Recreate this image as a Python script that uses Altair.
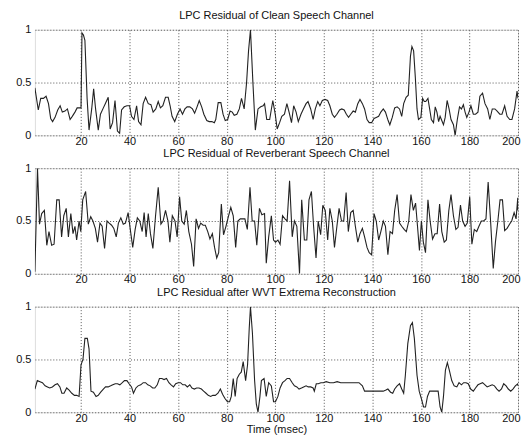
import altair as alt
import pandas as pd

# ---- Panel 1: LPC Residual of Clean Speech Channel ----
t1 = [1, 2.4, 3.4, 4.5, 5.6, 6.6, 7.5, 8.3, 9.3, 10.4, 11.4, 12.3, 13.4, 14.4, 15.5, 16.4, 17.5, 18.4, 19.3, 20,
      20.4, 21, 21.6, 22.5, 23.3, 24.4, 25.2, 26, 27.1, 28, 29.2, 30, 31.2, 32, 33, 34, 35, 35.9, 36.7, 37.8,
      38.9, 40, 40.8, 41.8, 42.9, 43.7, 44.7, 45.6, 46.6, 47.7, 48.8, 49.7, 50.8, 51.8, 52.7, 53.7, 54.8, 55.9,
      56.7, 57.5, 58.6, 59.7, 60.8, 61.8, 62.8, 63.7, 64.8, 65.9, 66.8, 67.8, 68.7, 69.7, 70.6, 71.8, 72.8, 73.9,
      74.9, 75.5, 76.5, 77.6, 78.5, 79.4, 80.4, 81.4, 82.3, 83.1, 84.2, 85.2, 86.1, 87.2, 88.2, 89, 89.8, 90.8,
      91.8, 92.9, 94, 95, 95.6, 96.5, 97.7, 99, 100, 100.8, 101.8, 102.7, 103.8, 104.8, 105.7, 106.7, 107.6,
      108.6, 109.5, 110.6, 111.6, 112.7, 113.5, 114.6, 115.6, 116.5, 117.5, 118.4, 119.4, 120.5, 121.6, 122.5,
      123.5, 124.4, 125.4, 126.5, 127.4, 128.4, 129.3, 130.2, 131.1, 132.1, 133, 134, 134.9, 135.9, 136.8,
      137.8, 138.7, 139.7, 140.7, 141.6, 142.6, 143.5, 144.5, 145.4, 146.5, 147.2, 148.2, 149.2, 150.2, 151.2,
      152.1, 152.9, 153.9, 154.8, 155.7, 156.3, 157, 157.7, 158.4, 159, 160, 160.7, 161.4, 162, 162.9, 163.6,
      164.3, 165.2, 165.9, 166.6, 167.3, 167.9, 168.6, 169.3, 170, 170.8, 171.6, 172.4, 173.4, 174.1, 175,
      175.9, 176.7, 177.5, 178.2, 178.9, 179.8, 180.6, 181.6, 182.5, 183.5, 184.3, 185.4, 186.4, 187.5, 188.4,
      189.4, 190.5, 191.4, 192.5, 193.4, 194.5, 195.5, 196.6, 197.5, 198.6, 199.6, 200]
v1 = [0.45, 0.24, 0.35, 0.35, 0.37, 0.30, 0.16, 0.13, 0.17, 0.24, 0.28, 0.22, 0.23, 0.25, 0.15, 0.18, 0.22, 0.26, 0.26, 0.26,
      0.97, 0.95, 0.90, 0.35, 0.05, 0.25, 0.44, 0.25, 0.05, 0.20, 0.26, 0.30, 0.36, 0.06, 0.12, 0.33, 0.04, 0.02, 0.24, 0.27,
      0.28, 0.28, 0.18, 0.15, 0.28, 0.13, 0.10, 0.30, 0.36, 0.30, 0.29, 0.22, 0.25, 0.32, 0.26, 0.28, 0.36, 0.36,
      0.28, 0.18, 0.13, 0.20, 0.25, 0.20, 0.25, 0.27, 0.27, 0.25, 0.21, 0.27, 0.33, 0.27, 0.20, 0.14, 0.13, 0.13,
      0.12, 0.15, 0.31, 0.31, 0.20, 0.14, 0.15, 0.23, 0.22, 0.19, 0.20, 0.25, 0.35, 0.25, 0.50, 0.80, 1.00, 0.50,
      0.05, 0.25, 0.27, 0.28, 0.30, 0.15, 0.15, 0.33, 0.20, 0.06, 0.12, 0.18, 0.20, 0.30, 0.22, 0.12, 0.28,
      0.22, 0.13, 0.20, 0.25, 0.30, 0.32, 0.25, 0.15, 0.25, 0.32, 0.28, 0.33, 0.34, 0.33, 0.28,
      0.20, 0.17, 0.20, 0.24, 0.25, 0.24, 0.20, 0.17, 0.20, 0.23, 0.22, 0.30, 0.34, 0.30, 0.25,
      0.15, 0.12, 0.12, 0.16, 0.17, 0.18, 0.22, 0.25, 0.22, 0.14, 0.10, 0.17, 0.26, 0.27, 0.25,
      0.18, 0.30, 0.36, 0.38, 0.75, 0.84, 0.80, 0.55, 0.25, 0.15, 0.17, 0.35, 0.32, 0.32, 0.35, 0.25,
      0.15, 0.12, 0.27, 0.22, 0.13, 0.18, 0.14, 0.10, 0.17, 0.33, 0.25, 0.15, 0.10, 0.00, 0.15,
      0.27, 0.25, 0.29, 0.22, 0.17, 0.22, 0.28, 0.20, 0.20, 0.22, 0.37, 0.40, 0.30, 0.25, 0.15,
      0.25, 0.25, 0.23, 0.20, 0.20, 0.28, 0.18, 0.15, 0.15, 0.25, 0.42, 0.35]

# ---- Panel 2: LPC Residual of Reverberant Speech Channel ----
t2 = [1, 2.07, 2.9, 3.8, 4.9, 5.9, 6.8, 7.9, 8.9, 10, 11, 12, 12.9, 13.9, 14.8, 15.8, 16.7, 17.5, 18.2, 19.2,
      19.9, 20.7, 21.9, 23, 24, 24.9, 25.9, 26.8, 27.8, 28.7, 29.7, 30.7, 31.6, 32.6, 33.5, 34.5, 35.4, 36.4,
      37.4, 38.3, 39.4, 40.3, 41.3, 42.3, 43.2, 44.2, 45.2, 46, 46.8, 47.7, 48.6, 49.6, 50.7, 51.8, 52.9, 53.8,
      54.8, 55.8, 56.6, 57.6, 58.7, 59.6, 60.6, 61.5, 62.5, 63.4, 64.4, 65.5, 66.4, 67.4, 68.4, 69.3, 70.3,
      71.2, 72.2, 73.1, 74.1, 75, 75.9, 76.7, 77.8, 78.7, 79.7, 80.8, 81.7, 82.7, 83.7, 84.6, 85.6, 86.6, 87.5,
      88.5, 89.6, 90.5, 91.5, 92.4, 93.5, 94.5, 95.6, 96.3, 97.3, 98.4, 99.3, 100.1, 101.1, 102, 103, 104,
      104.9, 105.9, 107, 107.9, 108.9, 110, 110.9, 112, 113, 113.9, 114.9, 115.8, 116.8, 117.7, 118.7, 119.6,
      120.6, 121.6, 122.5, 123.5, 124.4, 125.4, 126.3, 127.3, 128.2, 129.2, 130.1, 131.1, 132.1, 133, 134,
      134.9, 135.9, 136.8, 137.8, 138.7, 139.7, 140.7, 141.6, 142.6, 143.5, 144.5, 145.4, 146.4, 147.3, 148.3,
      149.2, 150.2, 151.2, 152.1, 153.1, 154, 155, 155.9, 156.9, 157.8, 158.6, 159.4, 160.2, 161, 161.9,
      162.9, 163.8, 164.8, 165.8, 166.7, 167.7, 168.6, 169.6, 170.5, 171.5, 172.4, 173.4, 174.4, 175.3, 176.3,
      177.2, 178.2, 179.1, 180.1, 181, 182, 183, 183.9, 184.9, 185.8, 186.8, 187.7, 188.7, 189.8, 190.7,
      191.7, 192.6, 193.6, 194.5, 195.5, 196.5, 197.4, 198.4, 199.2, 199.9, 200]
v2 = [0.02, 1.00, 0.47, 0.57, 0.60, 0.27, 0.40, 0.27, 0.28, 0.70, 0.70, 0.35, 0.55, 0.62, 0.35, 0.57, 0.38, 0.45, 0.32, 0.50,
      0.40, 0.70, 0.78, 0.47, 0.54, 0.50, 0.43, 0.30, 0.48, 0.45, 0.24, 0.50, 0.48, 0.46, 0.43, 0.35, 0.48, 0.53,
      0.47, 0.48, 0.58, 0.42, 0.25, 0.42, 0.53, 0.50, 0.40, 0.58, 0.35, 0.57, 0.38, 0.24, 0.55, 0.82, 0.47, 0.50,
      0.60, 0.50, 0.30, 0.55, 0.50, 0.35, 0.73, 0.50, 0.47, 0.60, 0.40, 0.28, 0.07, 0.52, 0.43, 0.48, 0.46,
      0.46, 0.40, 0.33, 0.38, 0.25, 0.15, 0.20, 0.66, 0.37, 0.45, 0.55, 0.63, 0.55, 0.25, 0.50, 0.52, 0.52, 0.52,
      0.42, 0.82, 0.50, 0.50, 0.27, 0.62, 0.56, 0.57, 0.10, 0.35, 0.55, 0.32, 0.30, 0.32, 0.28, 0.55, 0.52,
      0.50, 0.88, 0.35, 0.50, 0.45, 0.00, 0.70, 0.32, 0.32, 0.70, 0.78, 0.45, 0.15, 0.50, 0.37, 0.65,
      0.60, 0.32, 0.62, 0.50, 0.25, 0.45, 0.62, 0.50, 0.50, 0.77, 0.40, 0.58, 0.60, 0.45, 0.30,
      0.38, 0.43, 0.35, 0.25, 0.20, 0.18, 0.57, 0.50, 0.32, 0.40, 0.50, 0.45, 0.18, 0.40, 0.38,
      0.60, 0.75, 0.48, 0.45, 0.42, 0.40, 0.50, 0.75, 0.60, 0.67, 0.45, 0.22, 0.50, 0.30, 0.20,
      0.70, 0.50, 0.33, 0.38, 0.38, 0.66, 0.40, 0.30, 0.32, 0.60, 0.75, 0.55, 0.42, 0.44, 0.65,
      0.50, 0.45, 0.48, 0.73, 0.28, 0.42, 0.40, 0.45, 0.50, 0.50, 0.52, 0.87, 0.50, 0.05, 0.30,
      0.50, 0.70, 0.70, 0.41, 0.43, 0.47, 0.50, 0.58, 0.52, 0.72, 0.60]

# ---- Panel 3: LPC Residual after WVT Extrema Reconstruction ----
t3 = [1, 2, 3.1, 4.1, 5.2, 6.2, 7.1, 8.2, 9.3, 10.3, 11.3, 12.1, 13, 14.1, 15.1, 16.2, 17.3, 18.2, 19.2, 20,
      20.8, 21.6, 22.6, 23.3, 24.1, 25.1, 26.2, 27.1, 28.1, 29.2, 30.1, 31.2, 32.2, 33.1, 34.1, 35, 36, 37,
      37.9, 38.9, 39.8, 40.8, 41.6, 42.6, 43.5, 44.6, 45.6, 46.6, 47.5, 48.5, 49.5, 50.4, 51.4, 52.3, 53.3,
      54.2, 55.2, 56.2, 57.1, 58.1, 59, 60, 61, 61.9, 62.9, 63.8, 64.8, 65.7, 66.7, 67.6, 68.6, 69.6, 70.5,
      71.5, 72.4, 73.4, 74.3, 75.3, 76.4, 77.4, 78.3, 79.3, 80.3, 81.2, 81.9, 82.7, 83.5, 84.3, 85.2, 86, 86.8,
      87.8, 88.6, 89.3, 89.8, 90.6, 91.5, 92.2, 92.9, 93.7, 94.3, 95.4, 96.3, 97.3, 98.4, 99.3, 100.1, 101.1,
      102, 103, 104, 104.9, 105.9, 107, 107.9, 108.9, 109.8, 110.8, 111.7, 112.7, 113.6, 114.6, 115.6, 116.1,
      116.9, 117.7, 118.8, 119.8, 121, 122.5, 124, 125.5, 127, 128.5, 130, 131.5, 133, 134.5, 135.9, 136.8,
      138.5, 140.5, 142.5, 144.5, 145.6, 146.4, 147.5, 148.4, 149.2, 150.2, 151.2, 152.1, 152.9, 153.6, 154.6,
      155.7, 156.5, 157.3, 158.4, 159.3, 160.3, 161.1, 161.9, 162.7, 163.6, 164.5, 165.5, 166.3, 167.1,
      167.9, 168.6, 169.3, 170.1, 170.9, 171.7, 172.7, 173.7, 174.8, 175.7, 176.7, 177.6, 178.6, 179.5,
      180.5, 181.6, 182.5, 183.5, 184.4, 185.4, 186.4, 187.3, 188.4, 189.4, 190.3, 191.3, 192.2, 193.2,
      194.1, 195.1, 196, 197, 197.9, 198.9, 199.9, 200]
v3 = [0.22, 0.30, 0.29, 0.28, 0.25, 0.24, 0.23, 0.24, 0.26, 0.27, 0.24, 0.18, 0.18, 0.23, 0.21, 0.18, 0.16, 0.16, 0.15, 0.45,
      0.50, 0.70, 0.70, 0.60, 0.20, 0.19, 0.15, 0.16, 0.19, 0.22, 0.24, 0.24, 0.25, 0.26, 0.27, 0.27, 0.26, 0.28,
      0.30, 0.30, 0.27, 0.24, 0.18, 0.23, 0.25, 0.26, 0.28, 0.28, 0.26, 0.25, 0.23, 0.23, 0.26, 0.32, 0.32,
      0.31, 0.32, 0.28, 0.26, 0.24, 0.27, 0.28, 0.28, 0.26, 0.26, 0.24, 0.26, 0.23, 0.22, 0.23, 0.23, 0.22, 0.20,
      0.18, 0.16, 0.15, 0.16, 0.16, 0.18, 0.22, 0.17, 0.13, 0.10, 0.10, 0.15, 0.32, 0.15, 0.32, 0.36, 0.38, 0.48,
      0.30, 0.45, 0.80, 1.00, 0.75, 0.30, 0.08, 0.00, 0.15, 0.30, 0.32, 0.15, 0.28, 0.25, 0.10, 0.10, 0.15,
      0.23, 0.28, 0.30, 0.32, 0.32, 0.28, 0.25, 0.24, 0.22, 0.23, 0.24, 0.25, 0.24, 0.24, 0.23, 0.20,
      0.27, 0.27, 0.28, 0.28, 0.29, 0.28, 0.28, 0.29, 0.28, 0.28, 0.28, 0.28, 0.28, 0.28, 0.25, 0.20,
      0.20, 0.20, 0.20, 0.20, 0.21, 0.22, 0.19, 0.18, 0.22, 0.25, 0.27, 0.22, 0.18, 0.35, 0.65,
      0.82, 0.85, 0.70, 0.35, 0.20, 0.12, 0.05, 0.05, 0.15, 0.20, 0.20, 0.20, 0.20, 0.20,
      0.05, 0.00, 0.15, 0.40, 0.47, 0.40, 0.30, 0.25, 0.24, 0.28, 0.26, 0.28, 0.28, 0.27,
      0.22, 0.20, 0.23, 0.26, 0.27, 0.28, 0.26, 0.24, 0.25, 0.26, 0.25, 0.22, 0.20, 0.22,
      0.27, 0.25, 0.22, 0.20, 0.22, 0.25, 0.27, 0.25]

titles = ["LPC Residual of Clean Speech Channel",
          "LPC Residual of Reverberant Speech Channel",
          "LPC Residual after WVT Extrema Reconstruction"]
x_ticks = [20, 40, 60, 80, 100, 120, 140, 160, 180, 200]
y_ticks = [0, 0.5, 1]

FONT = "Liberation Sans"


def panel(ts, vs, title, last):
    df = pd.DataFrame({"t": ts, "v": vs})
    xaxis_kwargs = dict(values=x_ticks, grid=True, ticks=False, labelPadding=0,
                        labelFontSize=11, labelFont=FONT, labelColor="#111",
                        gridDash=[1, 2], gridColor="#555", domain=False,
                        labelFlush=True, labelFlushOffset=2)
    if last:
        xaxis = alt.Axis(title="Time (msec)", titleFontSize=11, titleFont=FONT,
                         titleFontWeight="normal", titleColor="#111", titlePadding=0,
                         **xaxis_kwargs)
    else:
        xaxis = alt.Axis(title=None, **xaxis_kwargs)
    yaxis = alt.Axis(values=y_ticks, grid=True, ticks=False, labelPadding=4,
                     labelFontSize=11, labelFont=FONT, labelColor="#111",
                     gridDash=[1, 2], gridColor="#555", domain=False, title=None,
                     minExtent=26, labelExpr="datum.value == 0.5 ? '0.5' : format(datum.value, 'd')")
    return alt.Chart(df, title=alt.Title(title, fontSize=11, font=FONT, fontWeight="normal",
                                         color="#111", offset=3)).mark_line(
        color="#222", strokeWidth=1.1, clip=True
    ).encode(
        x=alt.X("t:Q", scale=alt.Scale(domain=[1, 200], nice=False, zero=False), axis=xaxis),
        y=alt.Y("v:Q", scale=alt.Scale(domain=[0, 1], nice=False), axis=yaxis),
        order="t:Q",
    ).properties(width=485, height=106)


chart = alt.vconcat(
    panel(t1, v1, titles[0], False),
    panel(t2, v2, titles[1], False),
    panel(t3, v3, titles[2], True),
    spacing=0,
).properties(
    padding={"left": 0, "top": 0, "right": 0, "bottom": 0}
).configure_view(stroke="#111", strokeWidth=1).configure(background="white")

chart.save("out.html", embed_options={"renderer": "svg", "actions": False})
